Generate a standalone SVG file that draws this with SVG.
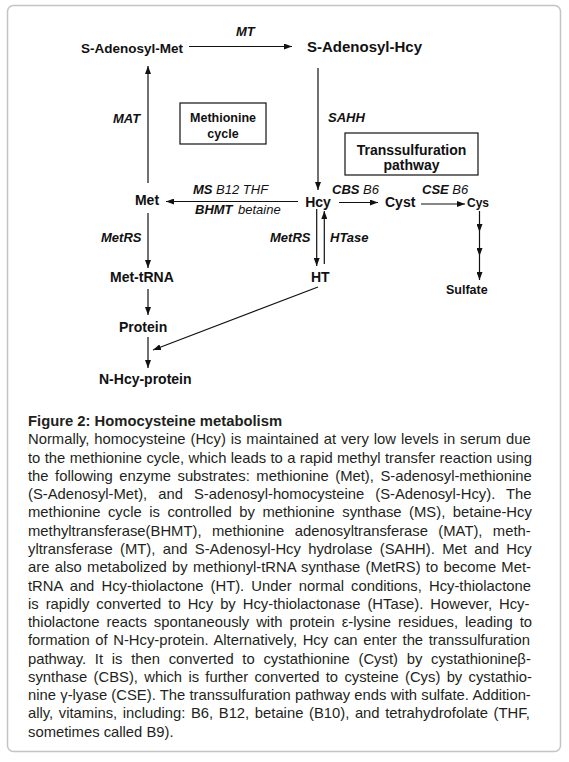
<svg xmlns="http://www.w3.org/2000/svg" width="569" height="762" viewBox="0 0 569 762">
<defs>
<marker id="ah" markerUnits="userSpaceOnUse" markerWidth="8" markerHeight="6" refX="8" refY="3" orient="auto">
<path d="M0,0 L8,3 L0,6 z" fill="#111"/>
</marker>
<style>
.n{font-family:"Liberation Sans",Arial,sans-serif;font-weight:bold;fill:#111}
.l{font-family:"Liberation Sans",Arial,sans-serif;font-style:italic;fill:#111;font-size:13px}
.b{font-weight:bold}
.c{stroke:#111;stroke-width:1.2;fill:none}
.a{stroke:#111;stroke-width:1.2;fill:none;marker-end:url(#ah)}
.box{fill:none;stroke:#111;stroke-width:1.2}
.cap{font-family:"Liberation Sans",Arial,sans-serif;font-size:14.8px;fill:#231f20}
</style>
</defs>
<rect x="7.5" y="5.5" width="553" height="746" rx="6" fill="#fff" stroke="#c4c4c4" stroke-width="1.5"/>

<g id="connectors">
<line class="a" x1="189" y1="46.5" x2="292" y2="46.5"/>
<line class="a" x1="148" y1="183" x2="148" y2="66"/>
<line class="a" x1="318" y1="68" x2="318" y2="190"/>
<line class="a" x1="298" y1="201.5" x2="166" y2="201.5"/>
<line class="a" x1="339" y1="202.5" x2="378" y2="202.5"/>
<line class="a" x1="421" y1="204" x2="465" y2="204"/>
<line class="a" x1="479.5" y1="211" x2="479.5" y2="232"/>
<line class="a" x1="479.5" y1="232" x2="479.5" y2="256"/>
<line class="a" x1="479.5" y1="256" x2="479.5" y2="280"/>
<line class="a" x1="148" y1="213" x2="148" y2="268"/>
<line class="a" x1="148" y1="289" x2="148" y2="315"/>
<line class="a" x1="148" y1="337" x2="148" y2="368"/>
<line class="a" x1="316.7" y1="209" x2="316.7" y2="266"/>
<line class="a" x1="324.3" y1="264" x2="324.3" y2="211"/>
<line class="a" x1="318" y1="287" x2="153" y2="350"/>
</g>

<g id="labels">
<text class="l b" x="236" y="36" font-size="12">MT</text>
<text class="l b" x="113" y="123">MAT</text>
<text class="l b" x="328" y="122" font-size="12.5">SAHH</text>
<text class="l" x="193" y="194"><tspan class="b">MS</tspan> B12 THF</text>
<text class="l" x="195" y="214"><tspan class="b">BHMT</tspan><tspan x="238">betaine</tspan></text>
<text class="l" x="332" y="194"><tspan class="b">CBS</tspan> B6</text>
<text class="l" x="422" y="194"><tspan class="b">CSE</tspan> B6</text>
<text class="l b" x="101" y="242">MetRS</text>
<text class="l b" x="270" y="242">MetRS</text>
<text class="l b" x="330" y="242">HTase</text>
</g>

<g id="node-sam"><text class="n" x="81" y="53" font-size="13.5">S-Adenosyl-Met</text></g>
<g id="node-sah"><text class="n" x="307" y="52" font-size="15">S-Adenosyl-Hcy</text></g>
<g id="node-methionine-cycle">
<rect class="box" x="180" y="103" width="86" height="41"/>
<text class="n" x="223" y="122" font-size="12.5" text-anchor="middle">Methionine</text>
<text class="n" x="223" y="138" font-size="12.5" text-anchor="middle">cycle</text>
</g>
<g id="node-transsulfuration">
<rect class="box" x="345" y="133" width="133" height="42"/>
<text class="n" x="411.5" y="155" font-size="14" text-anchor="middle">Transsulfuration</text>
<text class="n" x="411.5" y="170" font-size="14" text-anchor="middle">pathway</text>
</g>
<g id="node-met"><text class="n" x="147" y="205" font-size="14" text-anchor="middle">Met</text></g>
<g id="node-hcy"><text class="n" x="318" y="207" font-size="14" text-anchor="middle">Hcy</text></g>
<g id="node-cyst"><text class="n" x="385" y="207" font-size="14">Cyst</text></g>
<g id="node-cys"><text class="n" x="467" y="207" font-size="12">Cys</text></g>
<g id="node-sulfate"><text class="n" x="446" y="294" font-size="12.5">Sulfate</text></g>
<g id="node-met-trna"><text class="n" x="110" y="282" font-size="14">Met-tRNA</text></g>
<g id="node-ht"><text class="n" x="311" y="282" font-size="14">HT</text></g>
<g id="node-protein"><text class="n" x="119" y="332" font-size="14">Protein</text></g>
<g id="node-n-hcy-protein"><text class="n" x="99" y="384" font-size="14">N-Hcy-protein</text></g>

<g id="caption">
<text class="cap" x="28" y="426" font-size="15" font-weight="bold">Figure 2: Homocysteine metabolism</text>
<text class="cap" x="28" y="444.3" word-spacing="0.8">Normally, homocysteine (Hcy) is maintained at very low levels in serum due</text>
<text class="cap" x="28" y="462.6" word-spacing="0.25">to the methionine cycle, which leads to a rapid methyl transfer reaction using</text>
<text class="cap" x="28" y="480.8" word-spacing="2.4">the following enzyme substrates: methionine (Met), S-adenosyl-methionine</text>
<text class="cap" x="28" y="499.1" word-spacing="6.9">(S-Adenosyl-Met), and S-adenosyl-homocysteine (S-Adenosyl-Hcy). The</text>
<text class="cap" x="28" y="517.4" word-spacing="3.45">methionine cycle is controlled by methionine synthase (MS), betaine-Hcy</text>
<text class="cap" x="28" y="535.7" word-spacing="6.3">methyltransferase(BHMT), methionine adenosyltransferase (MAT), meth-</text>
<text class="cap" x="28" y="553.9" word-spacing="3.25">yltransferase (MT), and S-Adenosyl-Hcy hydrolase (SAHH). Met and Hcy</text>
<text class="cap" x="28" y="572.2" word-spacing="1.15">are also metabolized by methionyl-tRNA synthase (MetRS) to become Met-</text>
<text class="cap" x="28" y="590.5" word-spacing="3.0">tRNA and Hcy-thiolactone (HT). Under normal conditions, Hcy-thiolactone</text>
<text class="cap" x="28" y="608.7" word-spacing="2.9">is rapidly converted to Hcy by Hcy-thiolactonase (HTase). However, Hcy-</text>
<text class="cap" x="28" y="627.0" word-spacing="2.85">thiolactone reacts spontaneously with protein ε-lysine residues, leading to</text>
<text class="cap" x="28" y="645.3" word-spacing="1.5">formation of N-Hcy-protein. Alternatively, Hcy can enter the transsulfuration</text>
<text class="cap" x="28" y="663.5" word-spacing="4.6">pathway. It is then converted to cystathionine (Cyst) by cystathionineβ-</text>
<text class="cap" x="28" y="681.8" word-spacing="2.2">synthase (CBS), which is further converted to cysteine (Cys) by cystathio-</text>
<text class="cap" x="28" y="700.1" word-spacing="0.15">nine γ-lyase (CSE). The transsulfuration pathway ends with sulfate. Addition-</text>
<text class="cap" x="28" y="718.4" word-spacing="1.5">ally, vitamins, including: B6, B12, betaine (B10), and tetrahydrofolate (THF,</text>
<text class="cap" x="28" y="736.6">sometimes called B9).</text>
</g>
</svg>
